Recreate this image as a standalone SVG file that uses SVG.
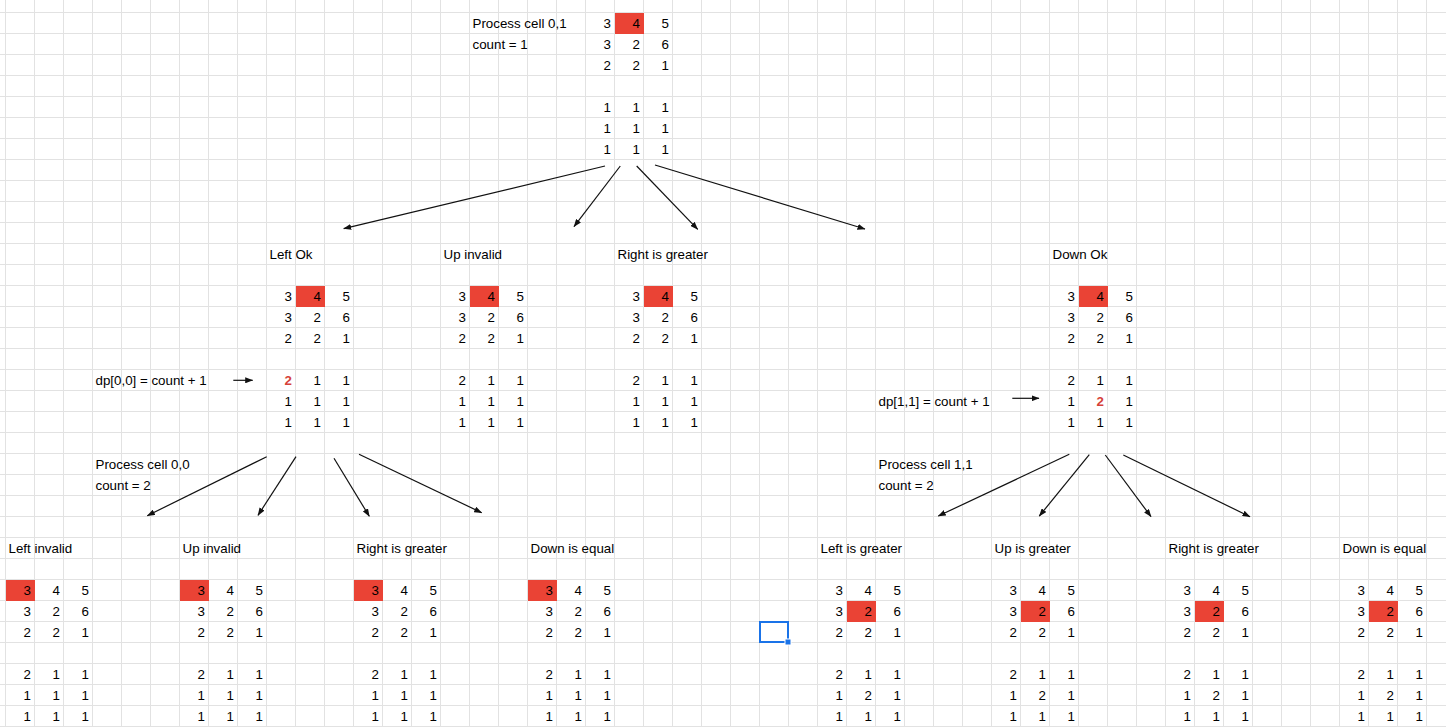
<svg xmlns="http://www.w3.org/2000/svg" width="1446" height="727" viewBox="0 0 1446 727">
<style>
text{font-family:"Liberation Sans",Arial,sans-serif;font-size:13.33px;fill:#000}
.n{text-anchor:end}
.b{font-weight:bold;fill:#d6423a}
.red{fill:#ea4335}
.c{stroke:#111;stroke-width:1.2;fill:none;marker-end:url(#ah)}
</style>
<defs>
<pattern id="grid" patternUnits="userSpaceOnUse" x="5" y="12" width="29" height="21">
<path d="M0.5 0V21M0 0.5H29" stroke="#e2e2e2" stroke-width="1" fill="none"/>
</pattern>
<marker id="ah" markerUnits="userSpaceOnUse" markerWidth="8" markerHeight="6" refX="7.5" refY="3" orient="auto">
<path d="M0 0L8 3L0 6z" fill="#111"/>
</marker>
</defs>
<rect width="1446" height="727" fill="#fff"/>
<rect width="1446" height="727" fill="url(#grid)"/>

<g id="root">
<text x="472.5" y="28">Process cell 0,1</text>
<text x="472.5" y="49">count = 1</text>
<g transform="translate(611,28)">
<rect class="red" x="4" y="-15" width="29" height="21"/>
<text class="n" x="0" y="0">3</text><text class="n" x="29" y="0">4</text><text class="n" x="58" y="0">5</text>
<text class="n" x="0" y="21">3</text><text class="n" x="29" y="21">2</text><text class="n" x="58" y="21">6</text>
<text class="n" x="0" y="42">2</text><text class="n" x="29" y="42">2</text><text class="n" x="58" y="42">1</text>
<text class="n" x="0" y="84">1</text><text class="n" x="29" y="84">1</text><text class="n" x="58" y="84">1</text>
<text class="n" x="0" y="105">1</text><text class="n" x="29" y="105">1</text><text class="n" x="58" y="105">1</text>
<text class="n" x="0" y="126">1</text><text class="n" x="29" y="126">1</text><text class="n" x="58" y="126">1</text>
</g>
</g>

<g id="left-ok">
<text x="269.5" y="259">Left Ok</text>
<text x="95.5" y="385">dp[0,0] = count + 1</text>
<g transform="translate(292,301)">
<rect class="red" x="4" y="-15" width="29" height="21"/>
<text class="n" x="0" y="0">3</text><text class="n" x="29" y="0">4</text><text class="n" x="58" y="0">5</text>
<text class="n" x="0" y="21">3</text><text class="n" x="29" y="21">2</text><text class="n" x="58" y="21">6</text>
<text class="n" x="0" y="42">2</text><text class="n" x="29" y="42">2</text><text class="n" x="58" y="42">1</text>
<text class="n b" x="0" y="84">2</text><text class="n" x="29" y="84">1</text><text class="n" x="58" y="84">1</text>
<text class="n" x="0" y="105">1</text><text class="n" x="29" y="105">1</text><text class="n" x="58" y="105">1</text>
<text class="n" x="0" y="126">1</text><text class="n" x="29" y="126">1</text><text class="n" x="58" y="126">1</text>
</g>
<text x="95.5" y="469">Process cell 0,0</text>
<text x="95.5" y="490">count = 2</text>
</g>

<g id="up-invalid">
<text x="443.5" y="259">Up invalid</text>
<g transform="translate(466,301)">
<rect class="red" x="4" y="-15" width="29" height="21"/>
<text class="n" x="0" y="0">3</text><text class="n" x="29" y="0">4</text><text class="n" x="58" y="0">5</text>
<text class="n" x="0" y="21">3</text><text class="n" x="29" y="21">2</text><text class="n" x="58" y="21">6</text>
<text class="n" x="0" y="42">2</text><text class="n" x="29" y="42">2</text><text class="n" x="58" y="42">1</text>
<text class="n" x="0" y="84">2</text><text class="n" x="29" y="84">1</text><text class="n" x="58" y="84">1</text>
<text class="n" x="0" y="105">1</text><text class="n" x="29" y="105">1</text><text class="n" x="58" y="105">1</text>
<text class="n" x="0" y="126">1</text><text class="n" x="29" y="126">1</text><text class="n" x="58" y="126">1</text>
</g>
</g>

<g id="right-greater">
<text x="617.5" y="259">Right is greater</text>
<g transform="translate(640,301)">
<rect class="red" x="4" y="-15" width="29" height="21"/>
<text class="n" x="0" y="0">3</text><text class="n" x="29" y="0">4</text><text class="n" x="58" y="0">5</text>
<text class="n" x="0" y="21">3</text><text class="n" x="29" y="21">2</text><text class="n" x="58" y="21">6</text>
<text class="n" x="0" y="42">2</text><text class="n" x="29" y="42">2</text><text class="n" x="58" y="42">1</text>
<text class="n" x="0" y="84">2</text><text class="n" x="29" y="84">1</text><text class="n" x="58" y="84">1</text>
<text class="n" x="0" y="105">1</text><text class="n" x="29" y="105">1</text><text class="n" x="58" y="105">1</text>
<text class="n" x="0" y="126">1</text><text class="n" x="29" y="126">1</text><text class="n" x="58" y="126">1</text>
</g>
</g>

<g id="down-ok">
<text x="1052.5" y="259">Down Ok</text>
<text x="878.5" y="406">dp[1,1] = count + 1</text>
<g transform="translate(1075,301)">
<rect class="red" x="4" y="-15" width="29" height="21"/>
<text class="n" x="0" y="0">3</text><text class="n" x="29" y="0">4</text><text class="n" x="58" y="0">5</text>
<text class="n" x="0" y="21">3</text><text class="n" x="29" y="21">2</text><text class="n" x="58" y="21">6</text>
<text class="n" x="0" y="42">2</text><text class="n" x="29" y="42">2</text><text class="n" x="58" y="42">1</text>
<text class="n" x="0" y="84">2</text><text class="n" x="29" y="84">1</text><text class="n" x="58" y="84">1</text>
<text class="n" x="0" y="105">1</text><text class="n b" x="29" y="105">2</text><text class="n" x="58" y="105">1</text>
<text class="n" x="0" y="126">1</text><text class="n" x="29" y="126">1</text><text class="n" x="58" y="126">1</text>
</g>
<text x="878.5" y="469">Process cell 1,1</text>
<text x="878.5" y="490">count = 2</text>
</g>

<g id="ll-left-invalid">
<text x="8.5" y="553">Left invalid</text>
<g transform="translate(31,595)">
<rect class="red" x="-25" y="-15" width="29" height="21"/>
<text class="n" x="0" y="0">3</text><text class="n" x="29" y="0">4</text><text class="n" x="58" y="0">5</text>
<text class="n" x="0" y="21">3</text><text class="n" x="29" y="21">2</text><text class="n" x="58" y="21">6</text>
<text class="n" x="0" y="42">2</text><text class="n" x="29" y="42">2</text><text class="n" x="58" y="42">1</text>
<text class="n" x="0" y="84">2</text><text class="n" x="29" y="84">1</text><text class="n" x="58" y="84">1</text>
<text class="n" x="0" y="105">1</text><text class="n" x="29" y="105">1</text><text class="n" x="58" y="105">1</text>
<text class="n" x="0" y="126">1</text><text class="n" x="29" y="126">1</text><text class="n" x="58" y="126">1</text>
</g>
</g>

<g id="ll-up-invalid">
<text x="182.5" y="553">Up invalid</text>
<g transform="translate(205,595)">
<rect class="red" x="-25" y="-15" width="29" height="21"/>
<text class="n" x="0" y="0">3</text><text class="n" x="29" y="0">4</text><text class="n" x="58" y="0">5</text>
<text class="n" x="0" y="21">3</text><text class="n" x="29" y="21">2</text><text class="n" x="58" y="21">6</text>
<text class="n" x="0" y="42">2</text><text class="n" x="29" y="42">2</text><text class="n" x="58" y="42">1</text>
<text class="n" x="0" y="84">2</text><text class="n" x="29" y="84">1</text><text class="n" x="58" y="84">1</text>
<text class="n" x="0" y="105">1</text><text class="n" x="29" y="105">1</text><text class="n" x="58" y="105">1</text>
<text class="n" x="0" y="126">1</text><text class="n" x="29" y="126">1</text><text class="n" x="58" y="126">1</text>
</g>
</g>

<g id="ll-right-greater">
<text x="356.5" y="553">Right is greater</text>
<g transform="translate(379,595)">
<rect class="red" x="-25" y="-15" width="29" height="21"/>
<text class="n" x="0" y="0">3</text><text class="n" x="29" y="0">4</text><text class="n" x="58" y="0">5</text>
<text class="n" x="0" y="21">3</text><text class="n" x="29" y="21">2</text><text class="n" x="58" y="21">6</text>
<text class="n" x="0" y="42">2</text><text class="n" x="29" y="42">2</text><text class="n" x="58" y="42">1</text>
<text class="n" x="0" y="84">2</text><text class="n" x="29" y="84">1</text><text class="n" x="58" y="84">1</text>
<text class="n" x="0" y="105">1</text><text class="n" x="29" y="105">1</text><text class="n" x="58" y="105">1</text>
<text class="n" x="0" y="126">1</text><text class="n" x="29" y="126">1</text><text class="n" x="58" y="126">1</text>
</g>
</g>

<g id="ll-down-equal">
<text x="530.5" y="553">Down is equal</text>
<g transform="translate(553,595)">
<rect class="red" x="-25" y="-15" width="29" height="21"/>
<text class="n" x="0" y="0">3</text><text class="n" x="29" y="0">4</text><text class="n" x="58" y="0">5</text>
<text class="n" x="0" y="21">3</text><text class="n" x="29" y="21">2</text><text class="n" x="58" y="21">6</text>
<text class="n" x="0" y="42">2</text><text class="n" x="29" y="42">2</text><text class="n" x="58" y="42">1</text>
<text class="n" x="0" y="84">2</text><text class="n" x="29" y="84">1</text><text class="n" x="58" y="84">1</text>
<text class="n" x="0" y="105">1</text><text class="n" x="29" y="105">1</text><text class="n" x="58" y="105">1</text>
<text class="n" x="0" y="126">1</text><text class="n" x="29" y="126">1</text><text class="n" x="58" y="126">1</text>
</g>
</g>

<g id="rl-left-greater">
<text x="820.5" y="553">Left is greater</text>
<g transform="translate(843,595)">
<rect class="red" x="4" y="6" width="29" height="21"/>
<text class="n" x="0" y="0">3</text><text class="n" x="29" y="0">4</text><text class="n" x="58" y="0">5</text>
<text class="n" x="0" y="21">3</text><text class="n" x="29" y="21">2</text><text class="n" x="58" y="21">6</text>
<text class="n" x="0" y="42">2</text><text class="n" x="29" y="42">2</text><text class="n" x="58" y="42">1</text>
<text class="n" x="0" y="84">2</text><text class="n" x="29" y="84">1</text><text class="n" x="58" y="84">1</text>
<text class="n" x="0" y="105">1</text><text class="n" x="29" y="105">2</text><text class="n" x="58" y="105">1</text>
<text class="n" x="0" y="126">1</text><text class="n" x="29" y="126">1</text><text class="n" x="58" y="126">1</text>
</g>
</g>

<g id="rl-up-greater">
<text x="994.5" y="553">Up is greater</text>
<g transform="translate(1017,595)">
<rect class="red" x="4" y="6" width="29" height="21"/>
<text class="n" x="0" y="0">3</text><text class="n" x="29" y="0">4</text><text class="n" x="58" y="0">5</text>
<text class="n" x="0" y="21">3</text><text class="n" x="29" y="21">2</text><text class="n" x="58" y="21">6</text>
<text class="n" x="0" y="42">2</text><text class="n" x="29" y="42">2</text><text class="n" x="58" y="42">1</text>
<text class="n" x="0" y="84">2</text><text class="n" x="29" y="84">1</text><text class="n" x="58" y="84">1</text>
<text class="n" x="0" y="105">1</text><text class="n" x="29" y="105">2</text><text class="n" x="58" y="105">1</text>
<text class="n" x="0" y="126">1</text><text class="n" x="29" y="126">1</text><text class="n" x="58" y="126">1</text>
</g>
</g>

<g id="rl-right-greater">
<text x="1168.5" y="553">Right is greater</text>
<g transform="translate(1191,595)">
<rect class="red" x="4" y="6" width="29" height="21"/>
<text class="n" x="0" y="0">3</text><text class="n" x="29" y="0">4</text><text class="n" x="58" y="0">5</text>
<text class="n" x="0" y="21">3</text><text class="n" x="29" y="21">2</text><text class="n" x="58" y="21">6</text>
<text class="n" x="0" y="42">2</text><text class="n" x="29" y="42">2</text><text class="n" x="58" y="42">1</text>
<text class="n" x="0" y="84">2</text><text class="n" x="29" y="84">1</text><text class="n" x="58" y="84">1</text>
<text class="n" x="0" y="105">1</text><text class="n" x="29" y="105">2</text><text class="n" x="58" y="105">1</text>
<text class="n" x="0" y="126">1</text><text class="n" x="29" y="126">1</text><text class="n" x="58" y="126">1</text>
</g>
</g>

<g id="rl-down-equal">
<text x="1342.5" y="553">Down is equal</text>
<g transform="translate(1365,595)">
<rect class="red" x="4" y="6" width="29" height="21"/>
<text class="n" x="0" y="0">3</text><text class="n" x="29" y="0">4</text><text class="n" x="58" y="0">5</text>
<text class="n" x="0" y="21">3</text><text class="n" x="29" y="21">2</text><text class="n" x="58" y="21">6</text>
<text class="n" x="0" y="42">2</text><text class="n" x="29" y="42">2</text><text class="n" x="58" y="42">1</text>
<text class="n" x="0" y="84">2</text><text class="n" x="29" y="84">1</text><text class="n" x="58" y="84">1</text>
<text class="n" x="0" y="105">1</text><text class="n" x="29" y="105">2</text><text class="n" x="58" y="105">1</text>
<text class="n" x="0" y="126">1</text><text class="n" x="29" y="126">1</text><text class="n" x="58" y="126">1</text>
</g>
</g>

<g id="connectors">
<path class="c" d="M605 166L343.7 228.7"/>
<path class="c" d="M620.3 166L574 226.7"/>
<path class="c" d="M636.7 166L697.7 229.3"/>
<path class="c" d="M655 165L865 229"/>
<path class="c" d="M266.7 456.7L147.3 515.7"/>
<path class="c" d="M296 456.7L258 515.3"/>
<path class="c" d="M334 458.3L369.3 516.3"/>
<path class="c" d="M359 454.3L481.7 512.7"/>
<path class="c" d="M1069.3 454.3L938.3 516"/>
<path class="c" d="M1089.3 454.7L1039.3 516"/>
<path class="c" d="M1105.3 455L1151 516.7"/>
<path class="c" d="M1123.3 455L1250 516.7"/>
<path class="c" d="M233.3 380.3L252.7 380.3"/>
<path class="c" d="M1012.3 398.3L1039 398.3"/>
</g>

<g id="selection">
<rect x="760" y="622" width="28" height="20" fill="none" stroke="#1a73e8" stroke-width="2"/>
<rect x="785" y="639" width="6" height="6" fill="#1a73e8" stroke="#fff" stroke-width="1"/>
</g>
</svg>
